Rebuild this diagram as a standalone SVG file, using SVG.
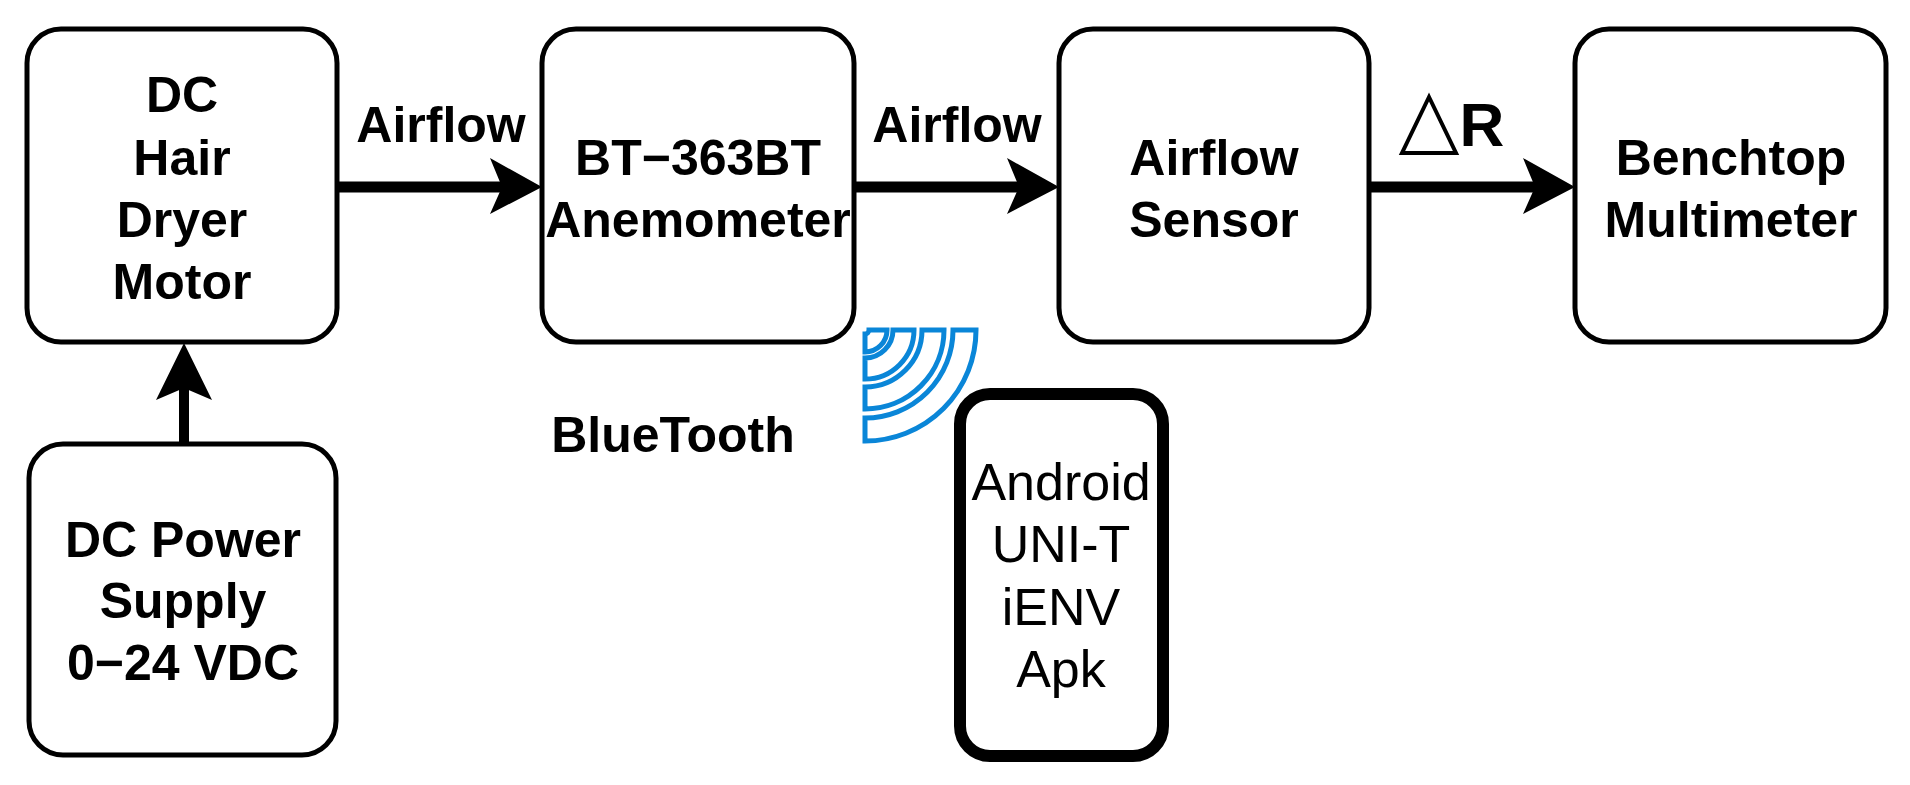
<svg xmlns="http://www.w3.org/2000/svg" width="1910" height="785" viewBox="0 0 1910 785">
<style>
.box{fill:#fff;stroke:#000;stroke-width:5}
.t{font-family:"Liberation Sans",Arial,sans-serif;font-weight:bold;font-size:50px;text-anchor:middle;fill:#000}
.r{font-family:"Liberation Sans",Arial,sans-serif;font-size:52px;text-anchor:middle;fill:#000}
.ln{stroke:#000;stroke-width:11;fill:none}
.bt{fill:#fff;stroke:#0a86d8;stroke-width:5}
</style>
<rect width="1910" height="785" fill="#fff"/>
<g id="connectors">
<line class="ln" x1="338" y1="187" x2="505" y2="187"/>
<polygon points="542,187 490,158 502,187 490,214"/>
<line class="ln" x1="854" y1="187" x2="1022" y2="187"/>
<polygon points="1059,187 1007,158 1019,187 1007,214"/>
<line class="ln" x1="1369" y1="187" x2="1538" y2="187"/>
<polygon points="1575,187 1523,158 1535,187 1523,214"/>
<line class="ln" x1="184" y1="444" x2="184" y2="385" style="stroke-width:10"/>
<polygon points="184,343 156,400 184,388 212,400"/>
<text class="t" x="441" y="142">Airflow</text>
<text class="t" x="957" y="142">Airflow</text>
<polygon points="1429,97 1402,153 1456,153" fill="none" stroke="#000" stroke-width="4"/>
<text class="t" x="1482" y="146" style="font-size:62px">R</text>
</g>
<g id="motor"><rect class="box" x="27" y="29" width="310" height="313" rx="34"/>
<text class="t" x="182" y="112">DC</text><text class="t" x="182" y="175">Hair</text><text class="t" x="182" y="237">Dryer</text><text class="t" x="182" y="299">Motor</text></g>
<g id="anemometer"><rect class="box" x="542" y="29" width="312" height="313" rx="34"/>
<text class="t" x="698" y="175">BT−363BT</text><text class="t" x="698" y="237">Anemometer</text></g>
<g id="sensor"><rect class="box" x="1059" y="29" width="310" height="313" rx="34"/>
<text class="t" x="1214" y="175">Airflow</text><text class="t" x="1214" y="237">Sensor</text></g>
<g id="multimeter"><rect class="box" x="1575" y="29" width="311" height="313" rx="34"/>
<text class="t" x="1731" y="175">Benchtop</text><text class="t" x="1731" y="237">Multimeter</text></g>
<g id="power"><rect class="box" x="29" y="444" width="307" height="311" rx="34"/>
<text class="t" x="183" y="557">DC Power</text><text class="t" x="183" y="618">Supply</text><text class="t" x="183" y="680">0−24 VDC</text></g>
<g id="bluetooth"><text class="t" x="673" y="452">BlueTooth</text>
<path class="bt" d="M869,330 L887,330 A22,22 0 0 1 865,352 L865,334 A4,4 0 0 0 869,330 Z"/>
<path class="bt" d="M893,330 L914,330 A49,49 0 0 1 865,379 L865,358 A28,28 0 0 0 893,330 Z"/>
<path class="bt" d="M922,330 L944,330 A79,79 0 0 1 865,409 L865,387 A57,57 0 0 0 922,330 Z"/>
<path class="bt" d="M953,330 L976,330 A111,111 0 0 1 865,441 L865,418 A88,88 0 0 0 953,330 Z"/>
</g>
<g id="phone"><rect x="960" y="394" width="203" height="362" rx="30" fill="#fff" stroke="#000" stroke-width="12"/>
<text class="r" x="1061" y="500">Android</text><text class="r" x="1061" y="562">UNI-T</text><text class="r" x="1061" y="625">iENV</text><text class="r" x="1061" y="687">Apk</text></g>
</svg>
